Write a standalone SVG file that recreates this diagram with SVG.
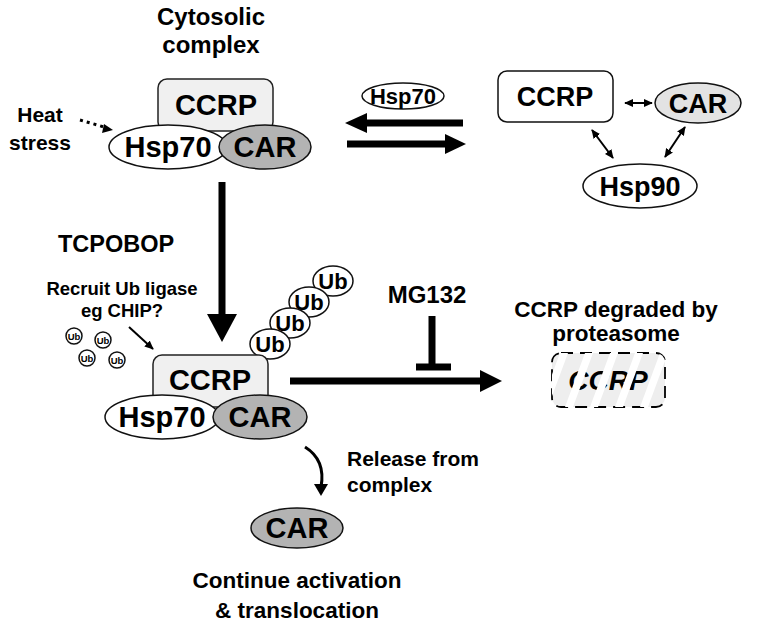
<svg xmlns="http://www.w3.org/2000/svg" width="766" height="624" viewBox="0 0 766 624">
<style>
text{font-family:"Liberation Sans",Arial,sans-serif;font-weight:bold;fill:#000;text-anchor:middle}
.box{fill:#f0f0f0;stroke:#222;stroke-width:1.5}
.wh{fill:#fff;stroke:#111;stroke-width:1.5}
.car{fill:#b3b3b3;stroke:#111;stroke-width:1.5}
.carl{fill:#e3e3e3;stroke:#111;stroke-width:1.5}
.big{font-size:29px}
.mid{font-size:27px}
.lbl{font-size:21px}
.lg{font-size:22.5px}
.ub{font-size:22px}
.sub{font-size:9.5px}
.thick{stroke:#000;stroke-width:7;fill:none}
.thin{stroke:#000;stroke-width:2;fill:none}
</style>
<defs>
<marker id="as" viewBox="0 0 10 10" refX="9" refY="5" markerWidth="9" markerHeight="9" orient="auto-start-reverse" markerUnits="userSpaceOnUse"><path d="M0,0.5L10,5L0,9.5z" fill="#000"/></marker>
<clipPath id="cl"><rect x="552" y="353" width="113" height="54" rx="9"/></clipPath>
</defs>

<text style="font-size:24px" x="211" y="25">Cytosolic</text>
<text style="font-size:24px" x="211" y="53">complex</text>
<text class="lbl" x="40" y="122">Heat</text>
<text class="lbl" x="40" y="150">stress</text>

<g id="cytosolic-complex">
<rect class="box" x="158" y="79" width="115" height="52" rx="9"/>
<text class="big" x="216" y="115">CCRP</text>
<ellipse class="wh" cx="168" cy="147" rx="59" ry="22"/>
<text class="big" x="168" y="157">Hsp70</text>
<ellipse class="car" cx="265" cy="147" rx="46" ry="22"/>
<text class="big" x="265" y="157">CAR</text>
</g>

<g id="hsp70-free">
<ellipse class="wh" cx="403" cy="96" rx="41" ry="13"/>
<text style="font-size:22px" x="403" y="104">Hsp70</text>
</g>

<g id="ccrp-free">
<rect fill="#fff" stroke="#111" stroke-width="1.5" x="498" y="71" width="115" height="51" rx="9"/>
<text class="mid" x="555" y="106">CCRP</text>
</g>
<g id="car-free">
<ellipse class="carl" cx="698" cy="103" rx="43" ry="20"/>
<text class="mid" x="698" y="113">CAR</text>
</g>
<g id="hsp90">
<ellipse class="wh" cx="640" cy="186" rx="57" ry="22"/>
<text class="mid" x="640" y="196">Hsp90</text>
</g>

<text style="font-size:23.5px" x="116" y="252">TCPOBOP</text>
<text style="font-size:18.5px" x="122" y="295">Recruit Ub ligase</text>
<text style="font-size:18.5px" x="122" y="317">eg CHIP?</text>

<g id="free-ub">
<circle class="wh" cx="74" cy="336" r="8" stroke-width="1"/><text class="sub" x="74" y="339.5">Ub</text>
<circle class="wh" cx="103" cy="340" r="8" stroke-width="1"/><text class="sub" x="103" y="343.5">Ub</text>
<circle class="wh" cx="87" cy="358" r="8" stroke-width="1"/><text class="sub" x="87" y="361.5">Ub</text>
<circle class="wh" cx="117" cy="360" r="8" stroke-width="1"/><text class="sub" x="117" y="363.5">Ub</text>
</g>

<g id="ub-chain">
<ellipse class="wh" cx="333" cy="281" rx="20" ry="15"/><text class="ub" x="333" y="289">Ub</text>
<ellipse class="wh" cx="309" cy="302" rx="20" ry="15"/><text class="ub" x="309" y="310">Ub</text>
<ellipse class="wh" cx="290" cy="323" rx="20" ry="15"/><text class="ub" x="290" y="331">Ub</text>
<ellipse class="wh" cx="270" cy="344" rx="20" ry="15"/><text class="ub" x="270" y="352">Ub</text>
</g>

<g id="ubiquitinated-complex">
<rect class="box" x="153" y="355" width="115" height="52" rx="9"/>
<text class="big" x="210" y="390">CCRP</text>
<ellipse class="wh" cx="162" cy="417" rx="57" ry="22"/>
<text class="big" x="162" y="427">Hsp70</text>
<ellipse class="car" cx="260" cy="417" rx="47" ry="22"/>
<text class="big" x="260" y="427">CAR</text>
</g>

<text style="font-size:24px" x="427" y="303">MG132</text>
<text class="lg" x="616" y="317">CCRP degraded by</text>
<text class="lg" x="616" y="341">proteasome</text>

<g id="degraded-ccrp">
<rect x="552" y="353" width="113" height="54" rx="9" fill="#eeeeee" stroke="#000" stroke-width="1.8" stroke-dasharray="12,7"/>
<text style="font-size:28px;font-style:italic" x="608" y="390">CCRP</text>
<g clip-path="url(#cl)" fill="#fff">
<path d="M540,407L548,407L568,353L560,353z"/>
<path d="M565,407L573,407L593,353L585,353z"/>
<path d="M590,407L598,407L618,353L610,353z"/>
<path d="M615,407L623,407L643,353L635,353z"/>
<path d="M640,407L648,407L668,353L660,353z"/>
</g>
</g>

<text class="lbl" x="347" y="466" style="text-anchor:start">Release from</text>
<text class="lbl" x="347" y="492" style="text-anchor:start">complex</text>

<g id="car-released">
<ellipse class="car" cx="297" cy="528" rx="46" ry="20"/>
<text class="big" x="297" y="538">CAR</text>
</g>

<text class="lg" x="297" y="588">Continue activation</text>
<text class="lg" x="297" y="618">&amp; translocation</text>

<g id="connectors">
<path d="M80,120L104,127" stroke="#000" stroke-width="3" stroke-dasharray="3,4" fill="none"/>
<path d="M104,124L113,130L102,133z" fill="#000"/>
<path d="M463,123H366" class="thick"/>
<path d="M367,113L345,123L367,133z" fill="#000"/>
<path d="M347,144H446" class="thick"/>
<path d="M445,134L466,144L445,154z" fill="#000"/>
<path d="M625,103H652" class="thin" marker-start="url(#as)" marker-end="url(#as)"/>
<path d="M592,130L613,158" class="thin" marker-start="url(#as)" marker-end="url(#as)"/>
<path d="M685,127L665,157" class="thin" marker-start="url(#as)" marker-end="url(#as)"/>
<path d="M222,182V316" class="thick"/>
<path d="M207,314L222,342L237,314z" fill="#000"/>
<path d="M129,327L153,349" class="thin" marker-end="url(#as)"/>
<path d="M290,381H482" class="thick"/>
<path d="M480,370L502,381L480,392z" fill="#000"/>
<path d="M432,316V367" class="thick"/>
<path d="M416,367H451" class="thick"/>
<path d="M305,447Q326,460 321,487" stroke="#000" stroke-width="3" fill="none"/>
<path d="M314,484L321,496L328,484z" fill="#000"/>
</g>
</svg>
